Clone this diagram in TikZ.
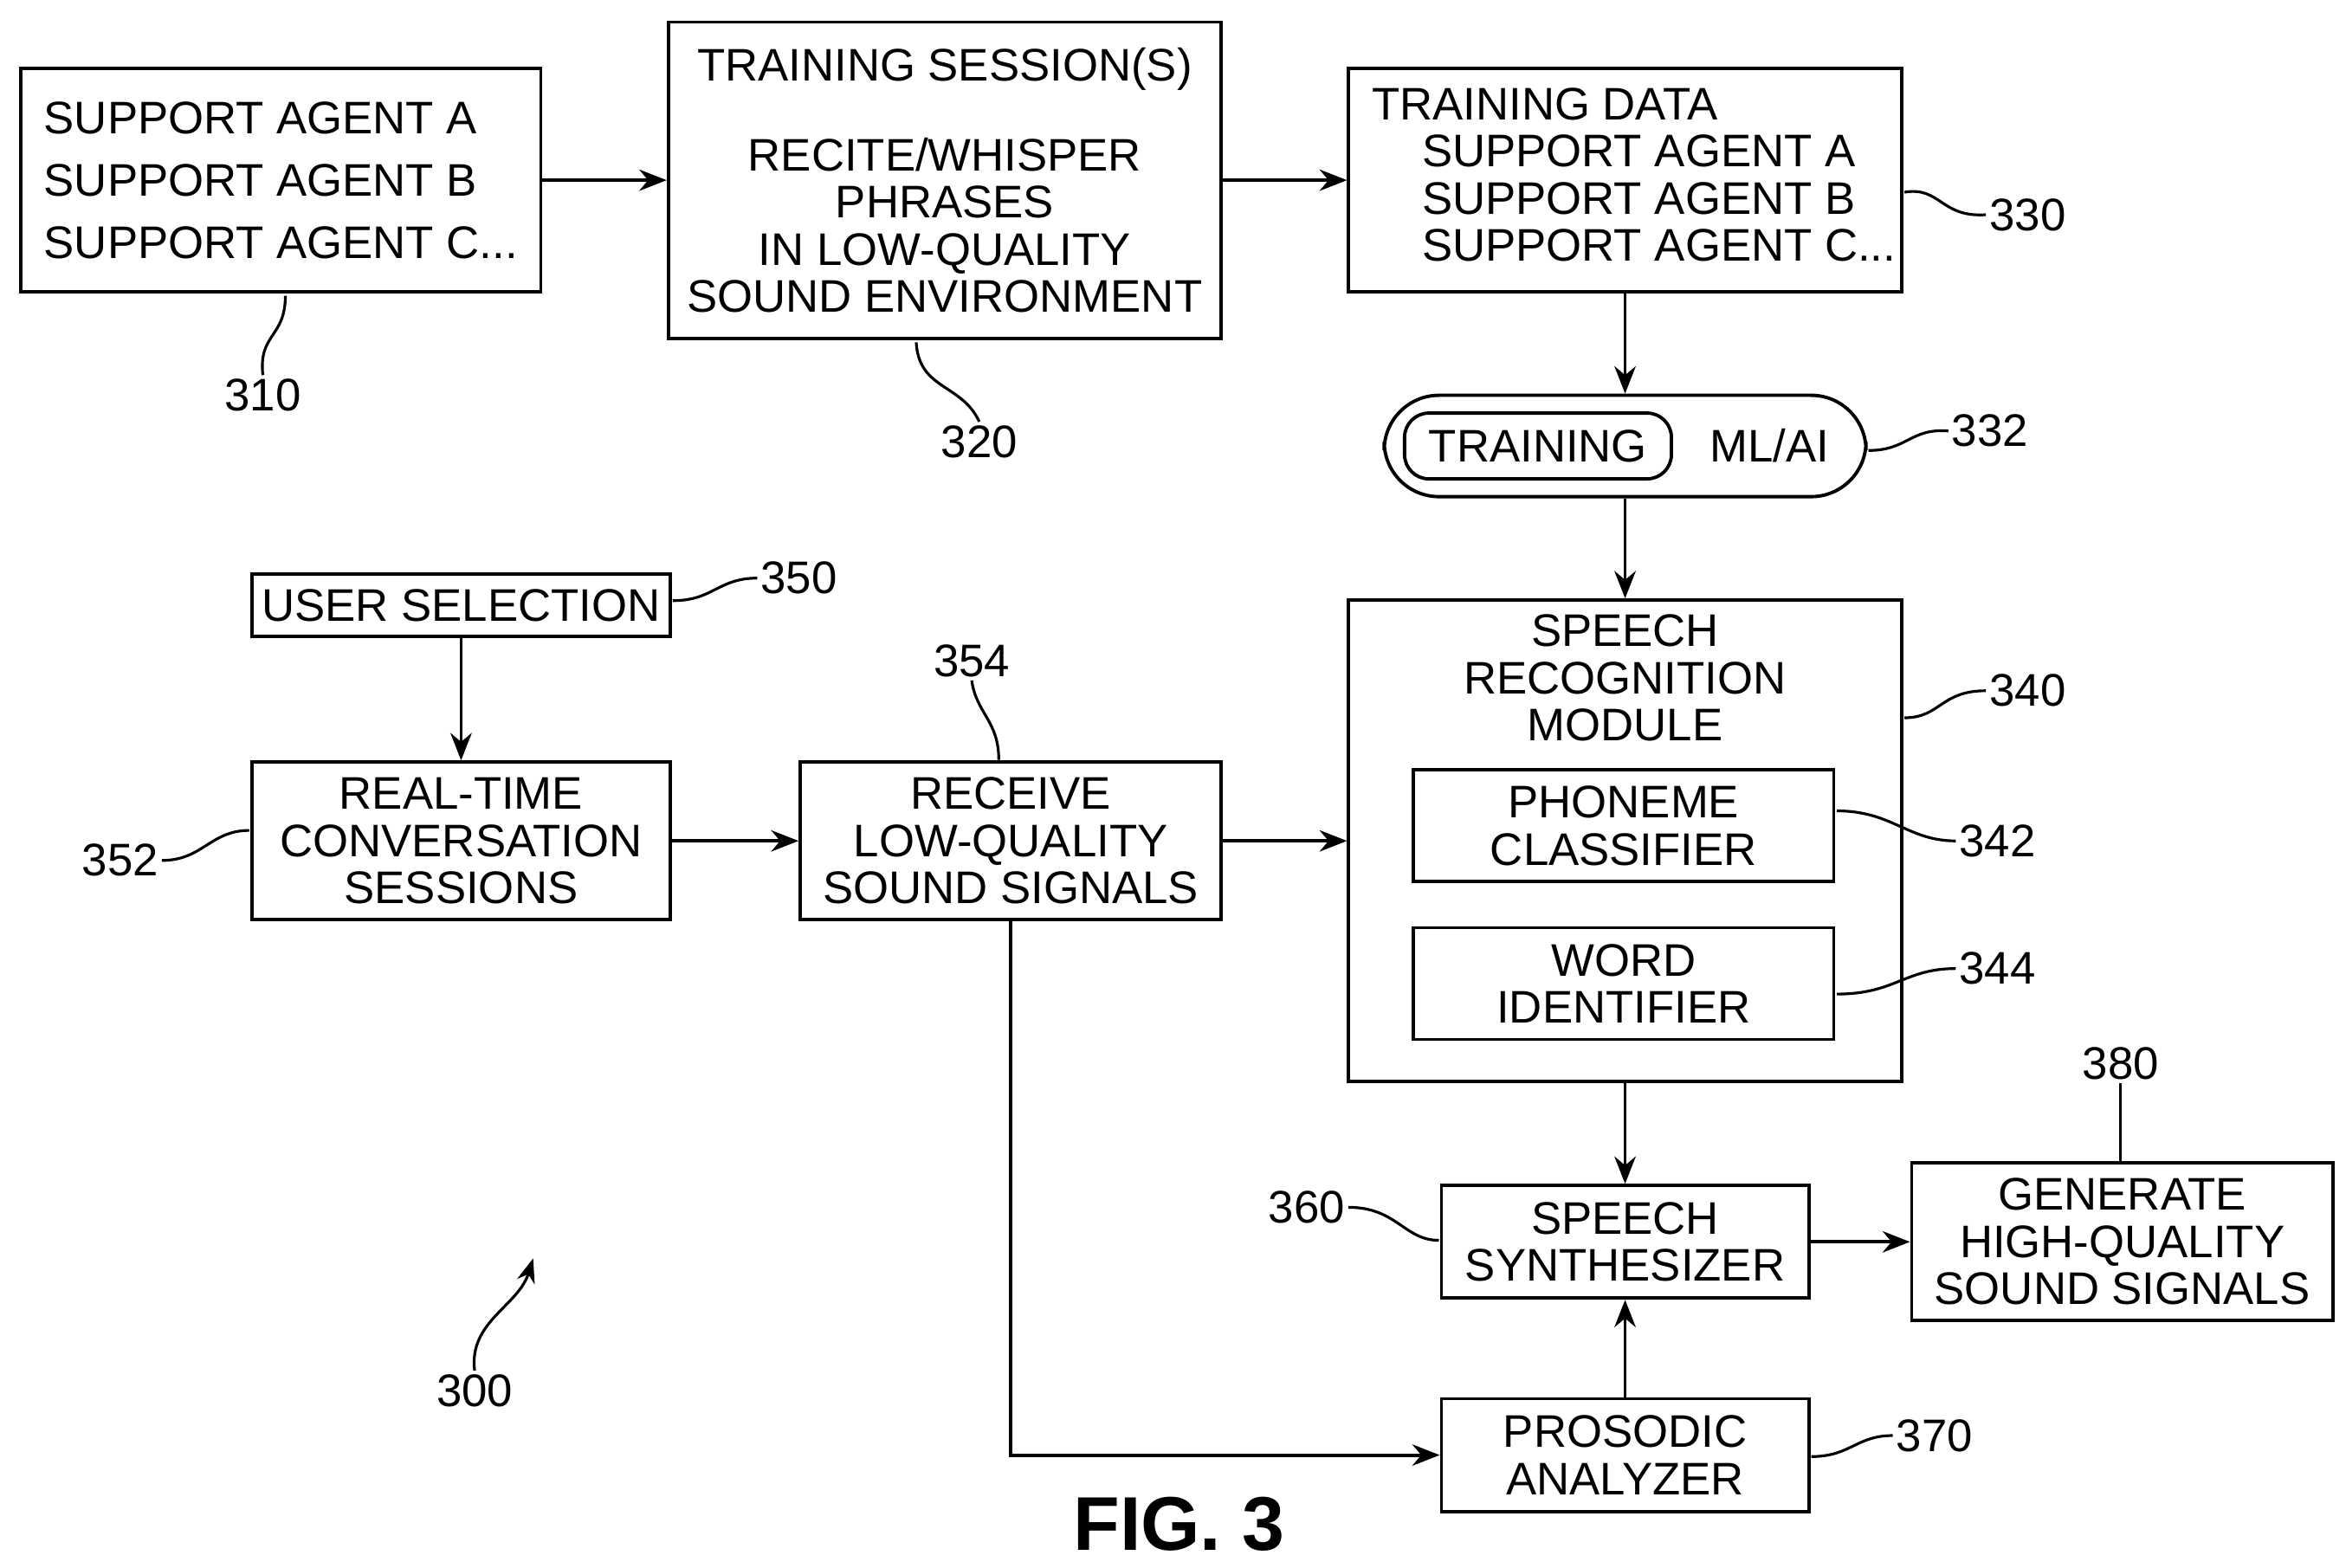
\documentclass[tikz,border=0pt]{standalone}
\usepackage{fontspec}
\setmainfont{Liberation Sans}
\usetikzlibrary{positioning,arrows.meta}
\begin{document}
\begin{tikzpicture}[x=0.01734cm,y=-0.01734cm,
    box/.style={draw, line width=1.1pt, align=center, inner sep=2pt,
        font=\fontsize{15}{15.5}\selectfont},
    txt/.style={font=\fontsize{15}{15.5}\selectfont, inner sep=0pt},
    num/.style={font=\fontsize{15}{15}\selectfont, inner sep=1pt},
    lead/.style={line width=0.9pt},
    flow/.style={line width=1.1pt, -{Stealth[length=9pt,width=7pt]}}]
    \useasboundingbox (0,0) rectangle (1562,1044);

    % upper row
    \node[box, minimum width=6.0cm, minimum height=2.58cm, align=left] (agents) at (187,120)
        {SUPPORT AGENT A\\[5pt]SUPPORT AGENT B\\[5pt]SUPPORT AGENT C...};
    \node[box, minimum width=6.38cm, minimum height=3.65cm] (session) at (629,120)
        {TRAINING SESSION(S)\\[14pt]RECITE/WHISPER\\PHRASES\\IN LOW-QUALITY\\SOUND ENVIRONMENT};
    \node[box, minimum width=6.38cm, minimum height=2.58cm] (data) at (1082,120) {};
    \node[txt, anchor=north west, align=left] at (913,58)
        {TRAINING DATA\\\hspace*{1.1em}SUPPORT AGENT A\\\hspace*{1.1em}SUPPORT AGENT B\\\hspace*{1.1em}SUPPORT AGENT C...};

    % training block
    \node[box, rounded corners=18pt, minimum width=5.56cm, minimum height=1.17cm] (mlai) at (1082,297) {};
    \node[box, rounded corners=8pt, minimum width=3.08cm, minimum height=0.76cm] (train) at (1024,297) {TRAINING};
    \node[txt] (ml) at (1178,297) {ML/AI};

    % speech recognition module
    \node[box, minimum width=6.38cm, minimum height=5.56cm] (srm) at (1082,560) {};
    \node[txt, align=center, anchor=north] at (1082,409) {SPEECH\\RECOGNITION\\MODULE};
    \node[box, minimum width=4.85cm, minimum height=1.29cm] (phon) at (1081,550) {PHONEME\\CLASSIFIER};
    \node[box, minimum width=4.85cm, minimum height=1.29cm] (word) at (1081,655) {WORD\\IDENTIFIER};

    % lower left
    \node[box, minimum width=4.83cm, minimum height=0.72cm] (user) at (307,403) {USER SELECTION};
    \node[box, minimum width=4.83cm, minimum height=1.82cm] (conv) at (307,560) {REAL-TIME\\CONVERSATION\\SESSIONS};
    \node[box, minimum width=4.86cm, minimum height=1.82cm] (recv) at (673,560) {RECEIVE\\LOW-QUALITY\\SOUND SIGNALS};

    % output
    \node[box, minimum width=4.24cm, minimum height=1.30cm] (synth) at (1082,827) {SPEECH\\SYNTHESIZER};
    \node[box, minimum width=4.24cm, minimum height=1.30cm] (pros) at (1082,969) {PROSODIC\\ANALYZER};
    \node[box, minimum width=4.86cm, minimum height=1.82cm] (gen) at (1413,827) {GENERATE\\HIGH-QUALITY\\SOUND SIGNALS};

    % connectors
    \draw[flow] (agents) -- (session);
    \draw[flow] (session.east |- agents) -- (data.west |- agents);
    \draw[flow] (data) -- (mlai);
    \draw[flow] (mlai) -- (srm);
    \draw[flow] (user) -- (conv);
    \draw[flow] (conv) -- (recv);
    \draw[flow] (recv) -- (srm.west |- recv);
    \draw[flow] (srm) -- (synth);
    \draw[flow] (pros) -- (synth);
    \draw[flow] (synth) -- (synth -| gen.west);
    \draw[flow] (recv.south) |- (pros.west);

    % reference numerals
    \node[num] (n310) at (175,263) {310};
    \node[num] (n320) at (652,294) {320};
    \node[num] (n330) at (1350,143) {330};
    \node[num] (n332) at (1325,287) {332};
    \node[num] (n340) at (1350,460) {340};
    \node[num] (n342) at (1330,560) {342};
    \node[num] (n344) at (1330,645) {344};
    \node[num] (n350) at (532,385) {350};
    \node[num] (n352) at (80,573) {352};
    \node[num] (n354) at (647,440) {354};
    \node[num] (n360) at (870,804) {360};
    \node[num] (n370) at (1288,956) {370};
    \node[num] (n380) at (1412,708) {380};
    \node[num] (n300) at (316,926) {300};
    \draw[lead] (190,197) .. controls (190,225) and (172,222) .. (n310.north);
    \draw[lead] (610,228) .. controls (612,260) and (640,255) .. (n320.north);
    \draw[lead] (1268,128) .. controls (1292,124) and (1292,145) .. (n330.west);
    \draw[lead] (1244,300) .. controls (1270,300) and (1272,285) .. (n332.west);
    \draw[lead] (1268,478) .. controls (1292,478) and (1292,460) .. (n340.west);
    \draw[lead] (1223,540) .. controls (1260,540) and (1270,560) .. (n342.west);
    \draw[lead] (1223,662) .. controls (1262,662) and (1268,645) .. (n344.west);
    \draw[lead] (448,400) .. controls (475,400) and (478,385) .. (n350.west);
    \draw[lead] (166,553) .. controls (140,553) and (135,573) .. (n352.east);
    \draw[lead] (665,506) .. controls (665,480) and (650,475) .. (n354.south);
    \draw[lead] (958,826) .. controls (935,826) and (930,804) .. (n360.east);
    \draw[lead] (1206,970) .. controls (1232,970) and (1236,956) .. (n370.west);
    \draw[lead] (1412,773) -- (n380.south);
    \draw[lead, -{Stealth[length=8pt,width=6pt]}] (n300.north) .. controls (312,880) and (345,870) .. (355,838);

    \node[font=\bfseries\fontsize{25}{25}\selectfont] (fig) at (785,1015) {FIG. 3};
\end{tikzpicture}
\end{document}
